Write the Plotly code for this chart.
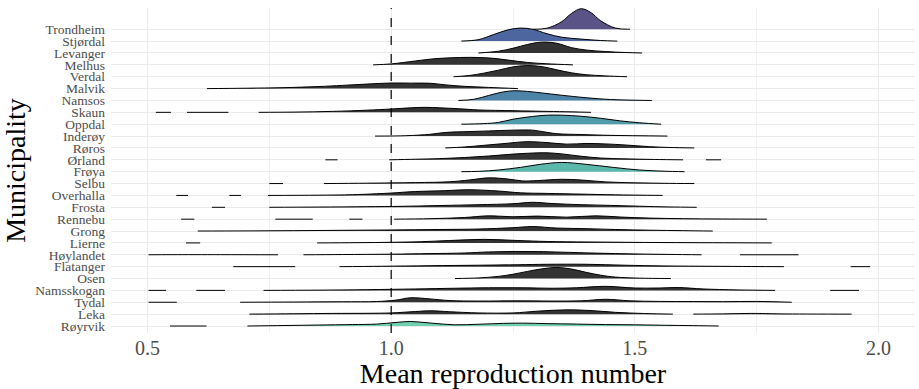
import plotly.graph_objects as go

# Municipalities, top to bottom
municipalities = ["Trondheim", "Stjørdal", "Levanger", "Melhus", "Verdal", "Malvik", "Namsos",
                  "Skaun", "Oppdal", "Inderøy", "Røros", "Ørland", "Frøya", "Selbu", "Overhalla",
                  "Frosta", "Rennebu", "Grong", "Lierne", "Høylandet", "Flatanger", "Osen",
                  "Namsskogan", "Tydal", "Leka", "Røyrvik"]

# Ridge profiles: x = mean reproduction number,
# h = scaled density height (in row units); None separates disjoint pieces.
trondheim_x = [1.29, 1.32, 1.35, 1.37, 1.39, 1.41, 1.43, 1.46, 1.49]
trondheim_h = [0, 0.09, 0.64, 1.33, 1.73, 1.40, 0.71, 0.10, 0]
stjordal_x = [1.144, 1.18, 1.21, 1.24, 1.265, 1.29, 1.32, 1.35, 1.39, 1.43, 1.464]
stjordal_h = [0, 0.13, 0.55, 0.95, 1.10, 1.0, 0.62, 0.33, 0.17, 0.05, 0]
levanger_x = [1.179, 1.22, 1.25, 1.28, 1.30, 1.316, 1.34, 1.37, 1.40, 1.44, 1.48, 1.515]
levanger_h = [0, 0.15, 0.4, 0.72, 0.88, 0.92, 0.82, 0.45, 0.25, 0.12, 0.04, 0]
melhus_x = [0.963, 1.0, 1.05, 1.09, 1.14, 1.18, 1.21, 1.24, 1.28, 1.32, 1.373]
melhus_h = [0, 0.08, 0.33, 0.52, 0.62, 0.62, 0.55, 0.4, 0.2, 0.09, 0]
verdal_x = [1.128, 1.16, 1.19, 1.22, 1.25, 1.278, 1.31, 1.34, 1.37, 1.40, 1.44, 1.484]
verdal_h = [0, 0.1, 0.3, 0.55, 0.83, 0.94, 0.85, 0.58, 0.33, 0.17, 0.07, 0]
malvik_x = [0.622, 0.70, 0.78, 0.85, 0.90, 0.95, 1.0, 1.04, 1.08, 1.11, 1.15, 1.20, 1.26]
malvik_h = [0, 0.03, 0.08, 0.17, 0.27, 0.38, 0.47, 0.46, 0.45, 0.32, 0.19, 0.1, 0]
namsos_x = [1.138, 1.17, 1.20, 1.23, 1.254, 1.28, 1.31, 1.35, 1.40, 1.45, 1.49, 1.535]
namsos_h = [0, 0.1, 0.42, 0.72, 0.82, 0.76, 0.63, 0.44, 0.23, 0.08, 0.03, 0]
skaun_x = [0.517, 0.548, None, 0.581, 0.666, None, 0.728, 0.80, 0.88, 0.95, 1.0, 1.04, 1.07,
           1.10, 1.14, 1.18, 1.25, 1.32, 1.37, 1.41]
skaun_h = [0, 0, None, 0, 0, None, 0, 0.02, 0.08, 0.18, 0.28, 0.38, 0.42,
           0.38, 0.3, 0.2, 0.14, 0.08, 0.04, 0]
oppdal_x = [1.144, 1.19, 1.22, 1.25, 1.29, 1.32, 1.35, 1.39, 1.43, 1.47, 1.51, 1.554]
oppdal_h = [0, 0.05, 0.15, 0.42, 0.65, 0.76, 0.76, 0.67, 0.5, 0.28, 0.12, 0]
inderoy_x = [0.967, 1.03, 1.08, 1.11, 1.16, 1.20, 1.25, 1.29, 1.31, 1.34, 1.39, 1.45, 1.567]
inderoy_h = [0, 0.03, 0.15, 0.3, 0.38, 0.43, 0.5, 0.5, 0.38, 0.2, 0.13, 0.06, 0]
roros_x = [1.111, 1.15, 1.19, 1.24, 1.278, 1.32, 1.36, 1.40, 1.44, 1.48, 1.53, 1.57, 1.622]
roros_h = [0, 0.08, 0.22, 0.4, 0.53, 0.45, 0.32, 0.38, 0.34, 0.25, 0.11, 0.04, 0]
orland_x = [0.865, 0.89, None, 0.996, 1.05, 1.10, 1.15, 1.2, 1.25, 1.29, 1.32, 1.35, 1.39,
            1.43, 1.48, 1.54, 1.599, None, 1.646, 1.677]
orland_h = [0, 0, None, 0, 0.05, 0.1, 0.19, 0.32, 0.48, 0.57, 0.59, 0.5, 0.3,
            0.15, 0.08, 0.03, 0, None, 0, 0]
froya_x = [1.144, 1.18, 1.22, 1.265, 1.306, 1.35, 1.40, 1.456, 1.51, 1.56, 1.602]
froya_h = [0, 0.03, 0.14, 0.36, 0.62, 0.78, 0.62, 0.36, 0.14, 0.04, 0]
selbu_x = [0.75, 0.778, None, 0.862, 0.95, 1.05, 1.12, 1.16, 1.20, 1.24, 1.27, 1.30, 1.35,
           1.39, 1.44, 1.50, 1.56, 1.622]
selbu_h = [0, 0, None, 0, 0.03, 0.08, 0.15, 0.3, 0.48, 0.38, 0.22, 0.25, 0.36,
           0.3, 0.14, 0.06, 0.02, 0]
overhalla_x = [0.559, 0.583, None, 0.668, 0.692, None, 0.747, 0.85, 0.92, 0.97, 1.0, 1.05,
               1.11, 1.16, 1.22, 1.265, 1.32, 1.39, 1.46, 1.557]
overhalla_h = [0, 0, None, 0, 0, None, 0, 0.02, 0.06, 0.14, 0.2, 0.33,
               0.4, 0.48, 0.37, 0.22, 0.17, 0.11, 0.05, 0]
frosta_x = [0.632, 0.659, None, 0.75, 0.85, 0.95, 1.02, 1.10, 1.18, 1.25, 1.29, 1.33, 1.39,
            1.45, 1.51, 1.57, 1.627]
frosta_h = [0, 0, None, 0, 0.02, 0.05, 0.08, 0.15, 0.22, 0.3, 0.42, 0.32, 0.22,
            0.16, 0.09, 0.03, 0]
rennebu_x = [0.569, 0.596, None, 0.762, 0.839, None, 0.914, 0.941, None, 1.006, 1.08, 1.15,
             1.20, 1.25, 1.30, 1.36, 1.42, 1.47, 1.53, 1.60, 1.68, 1.771]
rennebu_h = [0, 0, None, 0, 0, None, 0, 0, None, 0, 0.04, 0.14,
             0.28, 0.2, 0.26, 0.17, 0.28, 0.18, 0.09, 0.04, 0.015, 0]
grong_x = [0.603, 0.70, 0.80, 0.90, 1.0, 1.10, 1.18, 1.25, 1.29, 1.34, 1.40, 1.46, 1.53, 1.60, 1.66]
grong_h = [0, 0.01, 0.03, 0.06, 0.09, 0.13, 0.17, 0.28, 0.38, 0.25, 0.2, 0.13, 0.07, 0.03, 0]
lierne_x = [0.579, 0.608, None, 0.848, 0.93, 1.0, 1.06, 1.12, 1.19, 1.26, 1.32, 1.40, 1.48,
            1.56, 1.66, 1.781]
lierne_h = [0, 0, None, 0, 0.02, 0.05, 0.1, 0.2, 0.3, 0.2, 0.12, 0.08, 0.05,
            0.03, 0.015, 0]
hoylandet_x = [0.502, 0.55, 0.65, 0.768, None, 0.82, 0.90, 1.0, 1.08, 1.15, 1.20, 1.25, 1.30,
               1.35, 1.42, 1.50, 1.57, 1.637, None, 1.716, 1.836]
hoylandet_h = [0, 0.01, 0.01, 0, None, 0, 0.02, 0.05, 0.1, 0.15, 0.24, 0.28, 0.27,
               0.22, 0.14, 0.07, 0.03, 0, None, 0, 0]
flatanger_x = [0.676, 0.803, None, 0.894, 0.98, 1.08, 1.18, 1.26, 1.32, 1.40, 1.48, 1.56,
               1.66, 1.74, 1.806, None, 1.943, 1.983]
flatanger_h = [0, 0, None, 0, 0.03, 0.08, 0.12, 0.16, 0.2, 0.2, 0.12, 0.06,
               0.03, 0.01, 0, None, 0, 0]
osen_x = [1.131, 1.18, 1.22, 1.25, 1.28, 1.31, 1.34, 1.37, 1.40, 1.43, 1.46, 1.51, 1.574]
osen_h = [0, 0.05, 0.18, 0.36, 0.6, 0.82, 0.93, 0.8, 0.52, 0.28, 0.12, 0.03, 0]
namsskogan_x = [0.502, 0.538, None, 0.60, 0.659, None, 0.738, 0.85, 0.95, 1.05, 1.13, 1.20,
                1.27, 1.33, 1.38, 1.44, 1.50, 1.55, 1.59, 1.64, 1.71, 1.788, None, 1.901, 1.96]
namsskogan_h = [0, 0, None, 0, 0, None, 0, 0.02, 0.06, 0.12, 0.18, 0.22,
                0.22, 0.18, 0.22, 0.34, 0.2, 0.2, 0.24, 0.12, 0.04, 0, None, 0, 0]
tydal_x = [0.502, 0.56, None, 0.69, 0.80, 0.90, 0.97, 1.01, 1.04, 1.08, 1.12, 1.18, 1.26,
           1.33, 1.39, 1.44, 1.49, 1.55, 1.62, 1.68, 1.75, 1.822]
tydal_h = [0, 0, None, 0, 0.02, 0.04, 0.06, 0.18, 0.38, 0.28, 0.14, 0.1, 0.12,
           0.1, 0.12, 0.25, 0.12, 0.07, 0.06, 0.05, 0.07, 0]
leka_x = [0.709, 0.80, 0.88, 0.95, 1.0, 1.05, 1.08, 1.12, 1.18, 1.25, 1.30, 1.36, 1.41, 1.46,
          1.52, 1.578, None, 1.62, 1.68, 1.74, 1.80, 1.945]
leka_h = [0, 0.03, 0.06, 0.07, 0.1, 0.22, 0.28, 0.2, 0.1, 0.1, 0.25, 0.36, 0.3, 0.15,
          0.05, 0, None, 0, 0.02, 0.06, 0.02, 0]
royrvik_x = [0.546, 0.621, None, 0.705, 0.78, 0.85, 0.92, 0.97, 1.01, 1.04, 1.08, 1.13, 1.18,
             1.23, 1.27, 1.32, 1.38, 1.44, 1.50, 1.56, 1.62, 1.672]
royrvik_h = [0, 0, None, 0, 0.04, 0.08, 0.12, 0.16, 0.3, 0.38, 0.25, 0.1, 0.15,
             0.22, 0.24, 0.2, 0.16, 0.12, 0.1, 0.06, 0.03, 0]

# Highlighted municipalities and their fill colours
highlight_names = ["Trondheim", "Stjørdal", "Namsos", "Oppdal", "Frøya", "Røyrvik"]
highlight_colors = ["#5A5387", "#4D66A0", "#4E83A8", "#519CAB", "#5CB8AD", "#70D1B1"]
default_fill = "#333333"

x_ticks = [0.5, 1.0, 1.5, 2.0]
x_tick_labels = ["0.5", "1.0", "1.5", "2.0"]
x_minor_ticks = [0.75, 1.25, 1.75]
reference_line = 1.0

ridge_x = [trondheim_x, stjordal_x, levanger_x, melhus_x, verdal_x, malvik_x, namsos_x,
           skaun_x, oppdal_x, inderoy_x, roros_x, orland_x, froya_x, selbu_x, overhalla_x,
           frosta_x, rennebu_x, grong_x, lierne_x, hoylandet_x, flatanger_x, osen_x,
           namsskogan_x, tydal_x, leka_x, royrvik_x]
ridge_h = [trondheim_h, stjordal_h, levanger_h, melhus_h, verdal_h, malvik_h, namsos_h,
           skaun_h, oppdal_h, inderoy_h, roros_h, orland_h, froya_h, selbu_h, overhalla_h,
           frosta_h, rennebu_h, grong_h, lierne_h, hoylandet_h, flatanger_h, osen_h,
           namsskogan_h, tydal_h, leka_h, royrvik_h]


def split_segments(xs, hs):
    segs, cx, ch = [], [], []
    for xv, hv in zip(xs, hs):
        if xv is None:
            if cx:
                segs.append((cx, ch))
            cx, ch = [], []
        else:
            cx.append(xv)
            ch.append(hv)
    if cx:
        segs.append((cx, ch))
    return segs


FONT = "Palatino Linotype, Palatino, Book Antiqua, Liberation Serif, serif"
n = len(municipalities)
fig = go.Figure()

for i, name in enumerate(municipalities):
    base = n - i
    color = highlight_colors[highlight_names.index(name)] if name in highlight_names else default_fill
    for sx, sh in split_segments(ridge_x[i], ridge_h[i]):
        sy = [base + v for v in sh]
        if max(sh) > 0:
            fig.add_trace(go.Scatter(x=sx, y=sy, mode="lines", fill="toself", fillcolor=color,
                                     line=dict(color="black", width=1, shape="spline", smoothing=1.0),
                                     hoverinfo="skip", showlegend=False))
        else:
            fig.add_trace(go.Scatter(x=sx, y=sy, mode="lines",
                                     line=dict(color="black", width=1),
                                     hoverinfo="skip", showlegend=False))

fig.add_vline(x=reference_line, line=dict(color="black", width=1.2, dash="dash"))

fig.update_layout(
    template="none",
    width=919, height=389,
    margin=dict(l=111, r=4, t=8, b=56),
    plot_bgcolor="white", paper_bgcolor="white",
    font=dict(family=FONT, color="black"),
)
fig.update_xaxes(
    automargin=False,
    range=[0.425, 2.075], tickvals=x_ticks, ticktext=x_tick_labels,
    tickfont=dict(size=20, color="#4D4D4D", family=FONT),
    showgrid=True, gridcolor="#EBEBEB", gridwidth=1, zeroline=False, showline=False,
    minor=dict(tickvals=x_minor_ticks, showgrid=True, gridcolor="#F0F0F0", gridwidth=0.6),
    title=dict(text="Mean reproduction number", font=dict(size=28, family=FONT), standoff=0),
    ticks="", ticklabelstandoff=1,
)
fig.update_yaxes(
    automargin=False,
    range=[0.41, 27.79], tickvals=[n - i for i in range(n)], ticktext=municipalities,
    tickfont=dict(size=13.5, color="#4D4D4D", family=FONT),
    showgrid=True, gridcolor="#EBEBEB", gridwidth=1, zeroline=False, showline=False,
    title=dict(text="Municipality", font=dict(size=28, family=FONT), standoff=4),
    ticks="", ticklabelstandoff=5,
)

fig.write_html("out.html", config={"displayModeBar": False},
               post_script="document.body.style.margin='0';document.body.style.overflow='hidden';")
